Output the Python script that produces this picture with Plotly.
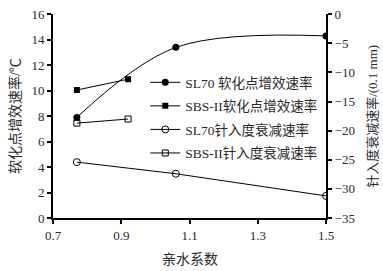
import plotly.graph_objects as go

sl70_soft_x = [0.77, 1.06, 1.50]
sl70_soft_y = [7.9, 13.4, 14.3]
sbs_soft_x = [0.77, 0.92]
sbs_soft_y = [10.05, 10.9]
sl70_pen_x = [0.77, 1.06, 1.50]
sl70_pen_y = [-25.4, -27.4, -31.2]
sbs_pen_x = [0.77, 0.92]
sbs_pen_y = [-18.7, -18.0]

x_ticks = [0.7, 0.9, 1.1, 1.3, 1.5]
left_ticks = [0, 2, 4, 6, 8, 10, 12, 14, 16]
right_ticks = [0, -5, -10, -15, -20, -25, -30, -35]

serif = "Liberation Serif, Noto Sans CJK SC"
txt = "#2a2a2a"
fig = go.Figure()
fig.add_trace(go.Scatter(x=sl70_soft_x, y=sl70_soft_y, name="SL70 软化点增效速率", legendgroup="a",
                         mode="lines+markers", line=dict(color="black", width=1, shape="spline"),
                         marker=dict(symbol="circle", size=7, color="black")))
fig.add_trace(go.Scatter(x=sbs_soft_x, y=sbs_soft_y, name="SBS-II软化点增效速率", legendgroup="b",
                         mode="lines+markers", line=dict(color="black", width=1),
                         marker=dict(symbol="square", size=6, color="black")))
fig.add_trace(go.Scatter(x=sl70_pen_x, y=sl70_pen_y, name="SL70针入度衰减速率", yaxis="y2", legendgroup="c",
                         mode="lines+markers", line=dict(color="black", width=1),
                         marker=dict(symbol="circle-open", size=7, color="black", line=dict(width=1))))
fig.add_trace(go.Scatter(x=sbs_pen_x, y=sbs_pen_y, name="SBS-II针入度衰减速率", yaxis="y2", legendgroup="d",
                         mode="lines+markers", line=dict(color="black", width=1),
                         marker=dict(symbol="square-open", size=6, color="black", line=dict(width=1))))

axis_common = dict(showline=True, linecolor="black", linewidth=2, ticks="outside",
                   ticklen=4, tickwidth=1.5, tickcolor="black", showgrid=False, zeroline=False,
                   automargin=False, ticklabeloverflow="allow",
                   tickfont=dict(family=serif, size=13, color=txt))
fig.update_layout(
    width=383, height=271,
    margin=dict(l=53, r=57, t=14, b=53),
    paper_bgcolor="white", plot_bgcolor="white",
    showlegend=True,
    legend=dict(x=0.338, y=0.74, xanchor="left", yanchor="top", bgcolor="rgba(0,0,0,0)",
                font=dict(family=serif, size=13.5, color=txt), tracegroupgap=3, itemwidth=30),
    xaxis=dict(range=[0.7, 1.5], tickvals=x_ticks, ticktext=[str(v) for v in x_ticks],
               **axis_common),
    yaxis=dict(range=[0, 16.02], tickvals=left_ticks, **axis_common),
    yaxis2=dict(range=[-35, 0.04], tickvals=right_ticks, overlaying="y", side="right",
                **axis_common),
    annotations=[
        dict(text="亲水系数", xref="paper", yref="paper", x=0.5, y=-0.205, yanchor="middle",
             xanchor="center", showarrow=False, font=dict(family=serif, size=14, color=txt)),
        dict(text="软化点增效速率/℃", xref="paper", yref="paper", x=-0.139, y=0.5,
             xanchor="center", yanchor="middle", textangle=-90, showarrow=False,
             font=dict(family=serif, size=14, color=txt)),
        dict(text="针入度衰减速率/(0.1 mm)", xref="paper", yref="paper", x=1.168, y=0.5,
             xanchor="center", yanchor="middle", textangle=-90, showarrow=False,
             font=dict(family=serif, size=13, color=txt)),
    ],
)
fig.write_html("out.html", config={"displayModeBar": False},
               post_script="document.body.style.margin='0';")
